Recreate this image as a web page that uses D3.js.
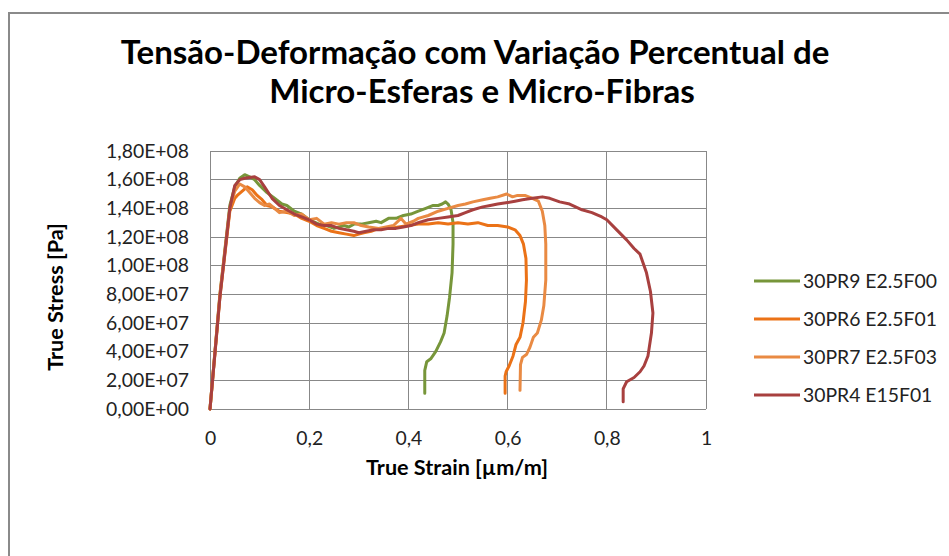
<!DOCTYPE html>
<html><head><meta charset="utf-8">
<script src="https://cdnjs.cloudflare.com/ajax/libs/d3/7.8.5/d3.min.js"></script>
<style>
html,body{margin:0;padding:0;background:#fff;}
svg{display:block;}
</style>
</head><body>
<svg id="c" width="949" height="556"></svg>
<script>
const titleLines = ["Tensão-Deformação com Variação Percentual de", "Micro-Esferas e Micro-Fibras"];
const xTitle = "True Strain [µm/m]";
const yTitle = "True Stress [Pa]";
const xTicks = [0, 0.2, 0.4, 0.6, 0.8, 1];
const xTickLabels = ["0", "0,2", "0,4", "0,6", "0,8", "1"];
const yTicks = [0, 2e7, 4e7, 6e7, 8e7, 1e8, 1.2e8, 1.4e8, 1.6e8, 1.8e8];
const yTickLabels = ["0,00E+00","2,00E+07","4,00E+07","6,00E+07","8,00E+07","1,00E+08","1,20E+08","1,40E+08","1,60E+08","1,80E+08"];
const seriesNames = ["30PR9 E2.5F00", "30PR6 E2.5F01", "30PR7 E2.5F03", "30PR4 E15F01"];
const seriesColors = ["#77963A", "#EB7217", "#E98A43", "#A8403F"];

// strain, stress (x1e8 Pa)
const pr9 = [[0,0],[0.02,0.8],[0.04,1.42],[0.05,1.55],[0.06,1.61],[0.07,1.635],[0.08,1.62],[0.09,1.60],[0.1,1.56],[0.115,1.51],[0.13,1.47],[0.145,1.43],[0.155,1.42],[0.17,1.38],[0.185,1.36],[0.2,1.32],[0.22,1.29],[0.235,1.28],[0.25,1.26],[0.26,1.27],[0.27,1.28],[0.28,1.27],[0.29,1.29],[0.305,1.29],[0.32,1.30],[0.335,1.31],[0.345,1.30],[0.36,1.33],[0.375,1.33],[0.39,1.35],[0.405,1.36],[0.42,1.38],[0.435,1.40],[0.45,1.42],[0.46,1.42],[0.468,1.43],[0.475,1.445],[0.48,1.43],[0.486,1.39],[0.49,1.30],[0.49,1.15],[0.488,0.95],[0.483,0.78],[0.478,0.65],[0.472,0.53],[0.465,0.47],[0.455,0.40],[0.445,0.35],[0.437,0.33],[0.433,0.27],[0.433,0.11]];
const pr6 = [[0,0],[0.02,0.78],[0.04,1.38],[0.05,1.47],[0.055,1.49],[0.065,1.52],[0.075,1.55],[0.085,1.53],[0.095,1.49],[0.105,1.46],[0.115,1.42],[0.125,1.41],[0.14,1.38],[0.155,1.37],[0.17,1.36],[0.185,1.33],[0.2,1.31],[0.215,1.28],[0.23,1.26],[0.245,1.24],[0.26,1.23],[0.275,1.22],[0.29,1.21],[0.3,1.22],[0.31,1.23],[0.325,1.24],[0.34,1.26],[0.36,1.26],[0.38,1.27],[0.4,1.28],[0.42,1.29],[0.44,1.29],[0.46,1.30],[0.48,1.29],[0.5,1.30],[0.52,1.29],[0.54,1.30],[0.56,1.28],[0.58,1.28],[0.6,1.27],[0.615,1.25],[0.625,1.21],[0.632,1.15],[0.637,1.05],[0.638,0.9],[0.636,0.75],[0.631,0.6],[0.625,0.5],[0.617,0.45],[0.611,0.37],[0.603,0.30],[0.597,0.26],[0.595,0.23],[0.595,0.11]];
const pr7 = [[0,0],[0.02,0.8],[0.04,1.40],[0.05,1.52],[0.06,1.57],[0.07,1.55],[0.08,1.51],[0.09,1.47],[0.1,1.44],[0.11,1.42],[0.12,1.43],[0.13,1.40],[0.14,1.37],[0.155,1.38],[0.17,1.35],[0.185,1.36],[0.2,1.32],[0.215,1.33],[0.23,1.29],[0.245,1.30],[0.26,1.29],[0.275,1.30],[0.29,1.30],[0.305,1.28],[0.32,1.27],[0.34,1.26],[0.355,1.27],[0.37,1.28],[0.385,1.33],[0.395,1.29],[0.41,1.31],[0.42,1.33],[0.44,1.35],[0.46,1.38],[0.48,1.40],[0.5,1.42],[0.515,1.43],[0.53,1.445],[0.55,1.46],[0.565,1.47],[0.58,1.48],[0.598,1.50],[0.61,1.48],[0.62,1.49],[0.635,1.49],[0.65,1.47],[0.662,1.45],[0.67,1.38],[0.675,1.28],[0.677,1.15],[0.677,0.9],[0.673,0.72],[0.668,0.62],[0.66,0.53],[0.652,0.50],[0.645,0.43],[0.638,0.38],[0.63,0.36],[0.626,0.31],[0.625,0.13]];
const pr4 = [[0,0],[0.02,0.78],[0.04,1.40],[0.05,1.56],[0.06,1.60],[0.07,1.61],[0.08,1.615],[0.09,1.62],[0.1,1.60],[0.11,1.55],[0.125,1.47],[0.14,1.42],[0.155,1.39],[0.17,1.36],[0.185,1.34],[0.2,1.32],[0.215,1.29],[0.23,1.28],[0.245,1.28],[0.26,1.26],[0.275,1.25],[0.29,1.24],[0.3,1.23],[0.315,1.24],[0.33,1.25],[0.345,1.25],[0.36,1.26],[0.375,1.26],[0.39,1.27],[0.405,1.28],[0.42,1.30],[0.44,1.32],[0.46,1.33],[0.48,1.34],[0.5,1.35],[0.515,1.37],[0.53,1.39],[0.55,1.41],[0.565,1.42],[0.58,1.43],[0.6,1.44],[0.615,1.45],[0.63,1.46],[0.65,1.47],[0.67,1.48],[0.685,1.47],[0.705,1.445],[0.725,1.43],[0.75,1.39],[0.77,1.37],[0.79,1.34],[0.80,1.32],[0.82,1.25],[0.84,1.18],[0.855,1.12],[0.867,1.08],[0.88,0.95],[0.888,0.82],[0.893,0.67],[0.89,0.53],[0.883,0.37],[0.875,0.30],[0.867,0.26],[0.855,0.22],[0.84,0.19],[0.833,0.14],[0.833,0.05]];
const seriesData = [pr9, pr6, pr7, pr4];

const svg = d3.select("#c");
const FONT = "Lato, 'Open Sans', sans-serif";
const grid = "#888888";

function fit(sel, target) {
  const w = sel.node().getComputedTextLength();
  const fs = parseFloat(sel.attr("font-size"));
  const nf = fs * target / w;
  sel.attr("font-size", nf);
  return nf;
}

// outer border
svg.append("rect").attr("x", 9).attr("y", 13).attr("width", 1000).attr("height", 1000)
  .attr("fill", "none").attr("stroke", "#8a8a8a").attr("stroke-width", 2);

const x = d3.scaleLinear().domain([0, 1]).range([210, 706]);
const y = d3.scaleLinear().domain([0, 1.8e8]).range([409, 151]);

// gridlines
svg.append("g").selectAll("line").data(yTicks).join("line")
  .attr("x1", x(0)).attr("x2", x(1)).attr("y1", d => y(d)).attr("y2", d => y(d))
  .attr("stroke", grid).attr("stroke-width", 1).attr("shape-rendering", "crispEdges");
svg.append("g").selectAll("line").data(xTicks).join("line")
  .attr("y1", y(0)).attr("y2", y(1.8e8)).attr("x1", d => x(d)).attr("x2", d => x(d))
  .attr("stroke", grid).attr("stroke-width", 1).attr("shape-rendering", "crispEdges");

// tick labels via axes
const yAxis = d3.axisLeft(y).tickValues(yTicks).tickSize(0).tickPadding(21)
  .tickFormat((d, i) => yTickLabels[i]);
const gy = svg.append("g").attr("transform", `translate(${x(0)},0)`).call(yAxis);
gy.select(".domain").remove();
gy.selectAll("text").attr("font-family", FONT).attr("font-size", 17).attr("fill", "#222");
let yfs = fit(gy.selectAll("text").filter((d, i) => i === 9), 83);
gy.selectAll("text").attr("font-size", yfs);

const xAxis = d3.axisBottom(x).tickValues(xTicks).tickSize(0).tickPadding(22)
  .tickFormat((d, i) => xTickLabels[i]);
const gx = svg.append("g").attr("transform", `translate(0,${y(0)})`).call(xAxis);
gx.select(".domain").remove();
gx.selectAll("text").attr("font-family", FONT).attr("font-size", yfs).attr("fill", "#222").attr("dy", "0.35em").attr("y", 29);

// series
const line = d3.line().x(d => x(d[0])).y(d => y(d[1] * 1e8));
svg.append("g").selectAll("path").data(seriesData).join("path")
  .attr("d", line).attr("fill", "none")
  .attr("stroke", (d, i) => seriesColors[i]).attr("stroke-width", 3)
  .attr("stroke-linejoin", "round").attr("stroke-linecap", "round");

// title
const t1 = svg.append("text").attr("x", 475).attr("y", 64).attr("text-anchor", "middle")
  .attr("font-family", FONT).attr("font-weight", "bold").attr("font-size", 28).attr("fill", "#000")
  .text(titleLines[0]);
const tfs = fit(t1, 709);
svg.append("text").attr("x", 482).attr("y", 103).attr("text-anchor", "middle")
  .attr("font-family", FONT).attr("font-weight", "bold").attr("font-size", tfs).attr("fill", "#000")
  .text(titleLines[1]);

// axis titles
const xt = svg.append("text").attr("x", 457).attr("y", 475).attr("text-anchor", "middle")
  .attr("font-family", FONT).attr("font-weight", "bold").attr("font-size", 16).attr("fill", "#000")
  .text(xTitle);
const afs = fit(xt, 182);
svg.append("text").attr("transform", "translate(63,297) rotate(-90)").attr("text-anchor", "middle")
  .attr("font-family", FONT).attr("font-weight", "bold").attr("font-size", afs).attr("fill", "#000")
  .text(yTitle);

// legend
const legY = [281, 319, 357, 395];
const lg = svg.append("g").selectAll("g").data(seriesNames).join("g")
  .attr("transform", (d, i) => `translate(0,${legY[i]})`);
lg.append("line").attr("x1", 754).attr("x2", 800).attr("y1", 0).attr("y2", 0)
  .attr("stroke", (d, i) => seriesColors[i]).attr("stroke-width", 3);
const lt = lg.append("text").attr("x", 803).attr("y", 0).attr("dy", "0.36em")
  .attr("font-family", FONT).attr("font-size", 17).attr("fill", "#222").text(d => d);
const lfs = fit(lt.filter((d, i) => i === 0), 134);
lt.attr("font-size", lfs);
</script>
</body></html>
